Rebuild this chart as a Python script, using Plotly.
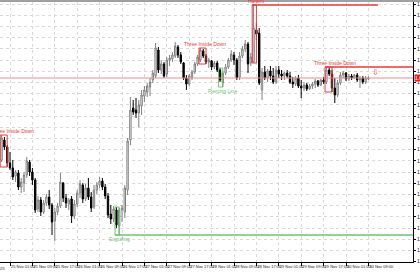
import plotly.graph_objects as go

# ---------------- data ----------------
opens = [
    1.0840, 1.0860, 1.0853, 1.0837, 1.0832, 1.0824, 1.0827, 1.0813, 1.0817, 1.0825,
    1.0838, 1.0828, 1.0820, 1.0791, 1.0800, 1.0788, 1.0797, 1.0803, 1.0795, 1.0779,
    1.0788, 1.0794, 1.0817, 1.0802, 1.0796, 1.0801, 1.0784, 1.0796, 1.0807, 1.0815,
    1.0801, 1.0812, 1.0803, 1.0793, 1.0810, 1.0815, 1.0819, 1.0813, 1.0804, 1.0786,
    1.0781, 1.0790, 1.0774, 1.0790, 1.0788, 1.0810, 1.0860, 1.0892, 1.0890, 1.0887,
    1.0894, 1.0904, 1.0908, 1.0913, 1.0920, 1.0924, 1.0950, 1.0930, 1.0936, 1.0926,
    1.0940, 1.0941, 1.0944, 1.0953, 1.0945, 1.0937, 1.0922, 1.0916, 1.0923, 1.0928,
    1.0936, 1.0940, 1.0949, 1.0944, 1.0938, 1.0939, 1.0933, 1.0937, 1.0930, 1.0917,
    1.0927, 1.0933, 1.0940, 1.0945, 1.0940, 1.0923, 1.0944, 1.0951, 1.0956, 1.0937,
    1.0938, 1.0970, 1.0967, 1.0910, 1.0928, 1.0922, 1.0929, 1.0924, 1.0918, 1.0930,
    1.0926, 1.0924, 1.0927, 1.0924, 1.0918, 1.0916, 1.0922, 1.0914, 1.0912, 1.0915,
    1.0911, 1.0914, 1.0916, 1.0919, 1.0915, 1.0920, 1.0918, 1.0930, 1.0926, 1.0912,
    1.0905, 1.0917, 1.0925, 1.0927, 1.0921, 1.0924, 1.0922, 1.0925, 1.0920, 1.0922,
    1.0918, 1.0921]
highs = [
    1.0865, 1.0863, 1.0855, 1.0848, 1.0840, 1.0830, 1.0830, 1.0822, 1.0828, 1.0843,
    1.0840, 1.0832, 1.0822, 1.0804, 1.0803, 1.0800, 1.0806, 1.0810, 1.0797, 1.0792,
    1.0797, 1.0827, 1.0818, 1.0806, 1.0802, 1.0804, 1.0800, 1.0810, 1.0820, 1.0817,
    1.0816, 1.0822, 1.0808, 1.0815, 1.0818, 1.0823, 1.0822, 1.0816, 1.0807, 1.0795,
    1.0794, 1.0793, 1.0792, 1.0795, 1.0815, 1.0862, 1.0903, 1.0900, 1.0902, 1.0900,
    1.0910, 1.0914, 1.0917, 1.0922, 1.0930, 1.0957, 1.0953, 1.0940, 1.0938, 1.0943,
    1.0945, 1.0948, 1.0958, 1.0955, 1.0948, 1.0938, 1.0925, 1.0926, 1.0930, 1.0938,
    1.0945, 1.0952, 1.0951, 1.0946, 1.0942, 1.0940, 1.0939, 1.0939, 1.0932, 1.0928,
    1.0936, 1.0942, 1.0950, 1.0948, 1.0942, 1.0948, 1.0954, 1.0960, 1.0958, 1.0947,
    1.0995, 1.0977, 1.0972, 1.0932, 1.0934, 1.0931, 1.0934, 1.0932, 1.0934, 1.0934,
    1.0930, 1.0928, 1.0930, 1.0928, 1.0923, 1.0924, 1.0925, 1.0920, 1.0918, 1.0917,
    1.0916, 1.0918, 1.0921, 1.0920, 1.0921, 1.0923, 1.0933, 1.0932, 1.0930, 1.0922,
    1.0920, 1.0928, 1.0929, 1.0928, 1.0926, 1.0926, 1.0926, 1.0927, 1.0924, 1.0924,
    1.0924, 1.0924]
lows = [
    1.0838, 1.0850, 1.0833, 1.0830, 1.0820, 1.0818, 1.0810, 1.0807, 1.0808, 1.0822,
    1.0824, 1.0815, 1.0787, 1.0788, 1.0784, 1.0786, 1.0794, 1.0791, 1.0765, 1.0759,
    1.0785, 1.0792, 1.0798, 1.0792, 1.0790, 1.0777, 1.0781, 1.0793, 1.0802, 1.0797,
    1.0799, 1.0800, 1.0788, 1.0791, 1.0806, 1.0812, 1.0810, 1.0801, 1.0782, 1.0776,
    1.0778, 1.0772, 1.0765, 1.0778, 1.0782, 1.0805, 1.0855, 1.0885, 1.0882, 1.0873,
    1.0885, 1.0898, 1.0903, 1.0904, 1.0917, 1.0922, 1.0927, 1.0926, 1.0922, 1.0923,
    1.0934, 1.0938, 1.0942, 1.0942, 1.0936, 1.0920, 1.0910, 1.0914, 1.0920, 1.0926,
    1.0934, 1.0938, 1.0942, 1.0936, 1.0932, 1.0930, 1.0931, 1.0928, 1.0918, 1.0913,
    1.0925, 1.0931, 1.0938, 1.0935, 1.0920, 1.0920, 1.0942, 1.0948, 1.0927, 1.0934,
    1.0937, 1.0960, 1.0915, 1.0900, 1.0920, 1.0918, 1.0920, 1.0916, 1.0916, 1.0922,
    1.0920, 1.0920, 1.0922, 1.0916, 1.0912, 1.0914, 1.0912, 1.0902, 1.0909, 1.0909,
    1.0910, 1.0911, 1.0912, 1.0913, 1.0914, 1.0916, 1.0916, 1.0924, 1.0908, 1.0897,
    1.0903, 1.0915, 1.0922, 1.0919, 1.0919, 1.0920, 1.0921, 1.0918, 1.0912, 1.0916,
    1.0916, 1.0920]
closes = [
    1.0862, 1.0853, 1.0837, 1.0832, 1.0823, 1.0828, 1.0813, 1.0818, 1.0825, 1.0839,
    1.0828, 1.0820, 1.0790, 1.0800, 1.0788, 1.0797, 1.0803, 1.0795, 1.0778, 1.0788,
    1.0794, 1.0818, 1.0802, 1.0797, 1.0800, 1.0784, 1.0796, 1.0807, 1.0816, 1.0801,
    1.0812, 1.0803, 1.0792, 1.0810, 1.0815, 1.0819, 1.0813, 1.0804, 1.0785, 1.0781,
    1.0791, 1.0775, 1.0790, 1.0792, 1.0812, 1.0859, 1.0890, 1.0888, 1.0887, 1.0895,
    1.0905, 1.0910, 1.0914, 1.0918, 1.0927, 1.0952, 1.0930, 1.0936, 1.0924, 1.0940,
    1.0942, 1.0945, 1.0954, 1.0945, 1.0938, 1.0922, 1.0916, 1.0924, 1.0928, 1.0936,
    1.0943, 1.0950, 1.0944, 1.0938, 1.0940, 1.0933, 1.0937, 1.0930, 1.0920, 1.0927,
    1.0933, 1.0940, 1.0946, 1.0940, 1.0922, 1.0944, 1.0951, 1.0956, 1.0936, 1.0943,
    1.0972, 1.0966, 1.0917, 1.0928, 1.0922, 1.0929, 1.0924, 1.0918, 1.0930, 1.0926,
    1.0924, 1.0927, 1.0924, 1.0918, 1.0916, 1.0922, 1.0914, 1.0912, 1.0915, 1.0911,
    1.0914, 1.0916, 1.0919, 1.0915, 1.0920, 1.0918, 1.0930, 1.0926, 1.0912, 1.0905,
    1.0917, 1.0925, 1.0927, 1.0921, 1.0924, 1.0922, 1.0925, 1.0920, 1.0922, 1.0918,
    1.0922, 1.0922]

bar_index = list(range(len(opens)))

x_tick_bars = [3, 11, 19, 27, 35, 43, 51, 59, 67, 75, 83, 91, 99, 107, 115, 123, 131]
x_tick_labels = ["25 Nov 01:00", "25 Nov 09:00", "25 Nov 17:00", "26 Nov 01:00",
                 "26 Nov 09:00", "26 Nov 17:00", "27 Nov 01:00", "27 Nov 09:00",
                 "27 Nov 17:00", "28 Nov 01:00", "28 Nov 09:00", "28 Nov 17:00",
                 "29 Nov 01:00", "29 Nov 09:00", "29 Nov 17:00", "30 Nov 01:00",
                 "30 Nov 09:00"]

y_ticks = [1.09960, 1.09848, 1.09736, 1.09624, 1.09512, 1.09400, 1.09288, 1.09176,
           1.09064, 1.08952, 1.08840, 1.08728, 1.08616, 1.08504, 1.08392, 1.08280,
           1.08168, 1.08056, 1.07944, 1.07832, 1.07720, 1.07608, 1.07496, 1.07384]
y_tick_labels = ["%.5f" % v for v in y_ticks]

# candlestick patterns: name, first bar, last bar, bearish?, label bar, extend line to
pattern_names = ["Three Inside Down", "Engulfing", "Three Inside Down", "Piercing Line",
                 "Harami", "Three Inside Down"]
pattern_first = [0, 41, 71, 78, 90, 116]
pattern_last = [2, 42, 73, 79, 91, 118]
pattern_bearish = [True, False, True, False, True, True]
pattern_label_bar = [3.9, 42.1, 72.6, 78.9, 90.9, 118.9]
pattern_line_end = [None, "edge", None, None, 134.4, "edge"]

# ---------------- figure ----------------
X_RANGE = [-0.571, 146.93]
Y_RANGE = [1.0738, 1.0998]
RED = "#e83a3a"
GREEN = "#6cc46c"
FONT = "Liberation Sans, Arial, sans-serif"

fig = go.Figure()
fig.add_trace(go.Candlestick(
    x=bar_index, open=opens, high=highs, low=lows, close=closes,
    increasing=dict(line=dict(color="#808080", width=1), fillcolor="white"),
    decreasing=dict(line=dict(color="#000000", width=1), fillcolor="black"),
    whiskerwidth=0, hoverinfo="skip", showlegend=False))

shapes = []
annotations = []

# current price line
last_close = closes[-1]
shapes.append(dict(type="line", xref="paper", yref="y", x0=0, x1=1,
                   y0=last_close, y1=last_close, line=dict(color="#f08a8a", width=1)))

for k, name in enumerate(pattern_names):
    a, b = pattern_first[k], pattern_last[k]
    top = max(highs[a:b + 1])
    bot = min(lows[a:b + 1])
    col = RED if pattern_bearish[k] else GREEN
    x0 = a - 0.5
    x1 = b
    shapes.append(dict(type="rect", xref="x", yref="y", x0=x0, x1=x1, y0=bot, y1=top,
                       line=dict(color=col, width=1), fillcolor="rgba(0,0,0,0)"))
    level = top if pattern_bearish[k] else bot
    end = pattern_line_end[k]
    if end is not None:
        xe = X_RANGE[1] if end == "edge" else end
        shapes.append(dict(type="line", xref="x", yref="y", x0=x0, x1=xe,
                           y0=level, y1=level, line=dict(color=col, width=1.5)))
    annotations.append(dict(
        x=pattern_label_bar[k], y=level, xref="x", yref="y", text=name,
        showarrow=False, xanchor="center",
        yanchor="bottom" if pattern_bearish[k] else "top",
        yshift=0, font=dict(family=FONT, size=5, color=col), borderpad=0))

# down arrow signal
annotations.append(dict(x=133.7, y=1.09275, xref="x", yref="y", text="⇩",
                        showarrow=False, font=dict(family="DejaVu Sans", size=8, color=RED)))

# price tag on the axis
annotations.append(dict(x=1, y=last_close, xref="paper", yref="y",
                        text="%.5f" % last_close, showarrow=False, xanchor="left",
                        xshift=1, bgcolor="#e02020", borderpad=0,
                        font=dict(family=FONT, size=5, color="white")))

# first date label (mostly off-screen)
annotations.append(dict(x=0.0175, y=0, xref="paper", yref="paper", text="24 Nov 2025",
                        showarrow=False, xanchor="right", yanchor="top", yshift=-2,
                        font=dict(family=FONT, size=4, color="#222")))

# top grey border
shapes.append(dict(type="rect", xref="paper", yref="paper", x0=-0.01, x1=1.05,
                   y0=1.0, y1=1.0 + 2.2 / 260, line=dict(width=0), fillcolor="#a0a0a0"))

fig.update_layout(
    template="none",
    width=420, height=280,
    margin=dict(l=0, r=7, t=2, b=18, pad=0),
    paper_bgcolor="white", plot_bgcolor="white",
    showlegend=False,
    shapes=shapes, annotations=annotations,
    xaxis=dict(range=X_RANGE, tickvals=x_tick_bars, ticktext=x_tick_labels,
               tickangle=0, ticklabelposition="outside right",
               ticks="outside", ticklen=3, tickcolor="#000", tickwidth=1,
               showline=True, linecolor="#000", linewidth=1,
               showgrid=True, gridcolor="#d9d9d9", griddash="dot", gridwidth=1,
               zeroline=False, automargin=False, rangeslider=dict(visible=False),
               tickfont=dict(family=FONT, size=4, color="#222")),
    yaxis=dict(range=Y_RANGE, side="right", tickvals=y_ticks, ticktext=y_tick_labels,
               ticks="outside", ticklen=2, tickcolor="#000", tickwidth=1,
               showline=True, linecolor="#000", linewidth=1,
               showgrid=True, gridcolor="#d9d9d9", griddash="dot", gridwidth=1,
               zeroline=False, automargin=False,
               tickfont=dict(family=FONT, size=5, color="#222")),
)

fig.write_html("out.html")
